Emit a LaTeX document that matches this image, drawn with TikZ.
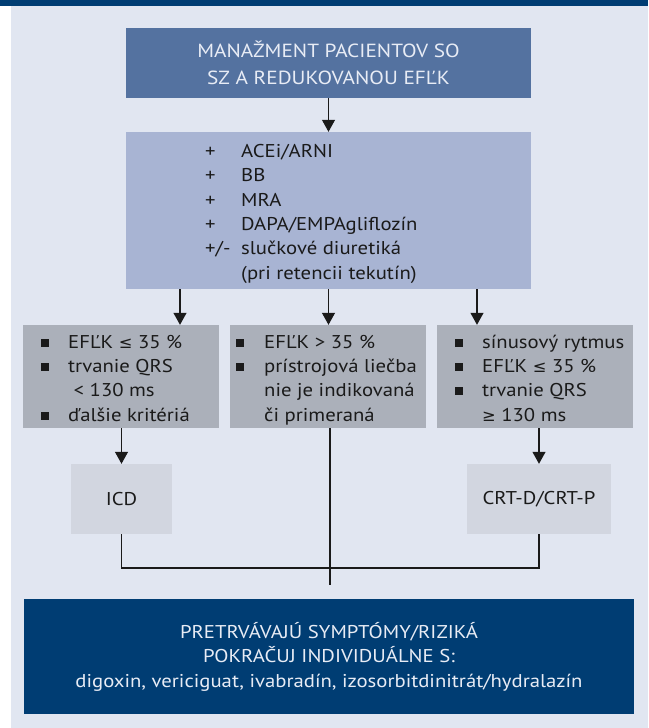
\documentclass[tikz,border=0pt]{standalone}
\usepackage{fontspec}
\setmainfont{PT Sans}[FakeStretch=1.12]
\newfontfamily\symfont{DejaVu Sans}[Scale=0.88]
\usetikzlibrary{arrows.meta}
\definecolor{navy}{RGB}{0,61,115}
\definecolor{bgc}{RGB}{225,230,241}
\definecolor{topc}{RGB}{84,114,160}
\definecolor{drugc}{RGB}{168,180,211}
\definecolor{critc}{RGB}{171,176,186}
\definecolor{devc}{RGB}{210,214,224}
\definecolor{lighttxt}{RGB}{232,236,245}
\definecolor{inktxt}{RGB}{26,26,26}
\newcommand{\bodyfont}{\fontsize{18.5}{24.4}\selectfont}
\newcommand{\titlefont}{\fontsize{19}{27}\selectfont}
\newcommand{\sqb}{\raisebox{1.5pt}{\rule{8pt}{8pt}}}
\newcommand{\myle}{{\symfont ≤}}
\newcommand{\myge}{{\symfont ≥}}
\begin{document}
\begin{tikzpicture}[x=1pt,y=-1pt,
  panel/.style={draw=none, inner sep=0pt, rectangle},
  txt/.style={inner sep=0pt, font=\bodyfont, text=inktxt},
  flow/.style={-{Triangle[length=12pt,width=13pt]}, line width=1.1pt, draw=inktxt},
  link/.style={line width=1.1pt, draw=inktxt}]
\useasboundingbox (0,0) rectangle (648,728);
\fill[white] (0,0) rectangle (648,728);
\fill[bgc] (11,0) rectangle (648,728);
\fill[navy] (0,0) rectangle (648,6);

% top box
\node[panel, fill=topc, minimum width=405pt, minimum height=70pt, align=center,
      font=\titlefont, text=lighttxt] (top) at (328.5,63)
  {MANAŽMENT PACIENTOV SO\\SZ A REDUKOVANOU EFĽK};

% drug box
\node[panel, fill=drugc, minimum width=405pt, minimum height=157pt] (drugs) at (328.5,210.5) {};
\node[txt, anchor=base west] (drugtxt) at (205,157.3)
  {\begin{tabular}[t]{@{}p{36pt}@{}l@{}}
   + & ACEi/ARNI\\
   + & BB\\
   + & MRA\\
   + & DAPA/EMPAgliflozín\\
   +/- & slučkové diuretiká\\
       & (pri retencii tekutín)
   \end{tabular}};

% criteria boxes
\node[panel, fill=critc, minimum width=196pt, minimum height=103pt] (crit1) at (121,376.5) {};
\node[panel, fill=critc, minimum width=196pt, minimum height=103pt] (crit2) at (328,376.5) {};
\node[panel, fill=critc, minimum width=196pt, minimum height=103pt] (crit3) at (535,376.5) {};

\node[txt, anchor=base west] (crit1txt) at (41,348)
  {\begin{tabular}[t]{@{}p{27pt}@{}l@{}}
   \sqb & EFĽK \myle{} 35 \%\\
   \sqb & trvanie QRS\\
        & \ < 130 ms\\
   \sqb & ďalšie kritériá
   \end{tabular}};
\node[txt, anchor=base west] (crit2txt) at (236,348)
  {\begin{tabular}[t]{@{}p{28pt}@{}l@{}}
   \sqb & EFĽK > 35 \%\\
   \sqb & prístrojová liečba\\
        & nie je indikovaná\\
        & či primeraná
   \end{tabular}};
\node[txt, anchor=base west] (crit3txt) at (455,348)
  {\begin{tabular}[t]{@{}p{27pt}@{}l@{}}
   \sqb & sínusový rytmus\\
   \sqb & EFĽK \myle{} 35 \%\\
   \sqb & trvanie QRS\\
        & \myge{} 130 ms
   \end{tabular}};

% device boxes
\node[panel, fill=devc, minimum width=101pt, minimum height=70pt, font=\bodyfont, text=inktxt] (icd) at (121.5,499) {ICD};
\node[panel, fill=devc, minimum width=144pt, minimum height=70pt, font=\bodyfont, text=inktxt] (crt) at (539,499) {CRT-D/CRT-P};

% bottom box
\node[panel, fill=navy, minimum width=610pt, minimum height=115pt, align=center,
      font=\fontsize{18.5}{24.5}\selectfont, text=lighttxt] (final) at (329,656.5)
  {PRETRVÁVAJÚ SYMPTÓMY/RIZIKÁ\\POKRAČUJ INDIVIDUÁLNE S:\\digoxin, vericiguat, ivabradín, izosorbitdinitrát/hydralazín};

% helper coordinates
\coordinate (c1) at (180,0);
\coordinate (c2) at (328.5,0);
\coordinate (c3) at (477,0);
\coordinate (join) at (330,568);
\coordinate (mend) at (330,585);

% connectors
\draw[flow] (top.south) -- (drugs.north);
\draw[flow] (drugs.south -| c1) -- (crit1.north -| c1);
\draw[flow] (drugs.south -| c2) -- (crit2.north -| c2);
\draw[flow] (drugs.south -| c3) -- (crit3.north -| c3);
\draw[flow] (crit1.south -| icd.north) -- (icd.north);
\draw[flow] (crit3.south -| crt.north) -- (crt.north);
\draw[link] (icd.south) -- (icd.south |- join) -- (crt.south |- join) -- (crt.south);
\draw[link] (crit2.south -| join) -- (mend);
\end{tikzpicture}
\end{document}
